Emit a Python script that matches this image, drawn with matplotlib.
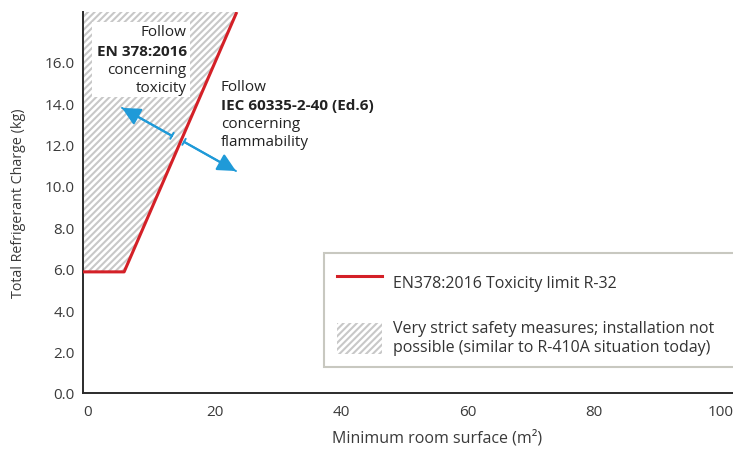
import matplotlib
matplotlib.use('Agg')
import matplotlib.pyplot as plt
import matplotlib.transforms as mtransforms
from matplotlib.lines import Line2D
from matplotlib.patches import Patch, Rectangle

# toxicity limit R-32 (EN378:2016)
surface = [0, 6.5, 24.3]
charge = [5.85, 5.85, 18.4]

x_ticks = [0, 20, 40, 60, 80, 100]
y_ticks = [0, 2, 4, 6, 8, 10, 12, 14, 16]

red = '#d42027'
blue = '#1f9ad8'
grey_txt = '#3a3a3a'
hatch_col = '#c8c8c8'

plt.rcParams['font.family'] = ['Open Sans', 'DejaVu Sans']
plt.rcParams['hatch.color'] = hatch_col
plt.rcParams['hatch.linewidth'] = 1.5

fig = plt.figure(figsize=(7.33, 4.52), dpi=100)
ax = fig.add_axes([83 / 733, 58 / 452, 650 / 733, 381 / 452])
ax.set_xlim(0, 102.7)
ax.set_ylim(0, 18.4)

# hatched zone above the limit
ax.fill_between(surface, charge, 18.4, facecolor='white', hatch='/////',
                edgecolor=hatch_col, linewidth=0, zorder=1)
ax.plot(surface, charge, color=red, lw=2.2, zorder=3, solid_capstyle='butt')

# white box behind the toxicity text
ax.add_patch(Rectangle((1.45, 14.3), 15.5, 3.6, facecolor='white',
                       edgecolor='none', zorder=2))
lines1 = [('Follow', 'normal', 17.44), ('EN 378:2016', 'bold', 16.52),
          ('concerning', 'normal', 15.6), ('toxicity', 'normal', 14.73)]
for s, w, y in lines1:
    ax.text(16.4, y, s, ha='right', va='center', fontsize=11, weight=w,
            color='#222222', zorder=4)
lines2 = [('Follow', 'normal', 14.78), ('IEC 60335-2-40 (Ed.6)', 'bold', 13.91),
          ('concerning', 'normal', 13.0), ('flammability', 'normal', 12.13)]
for s, w, y in lines2:
    ax.text(21.8, y, s, ha='left', va='center', fontsize=11, weight=w,
            color='#222222', zorder=4)

# arrows
for tail, head in [((14.06, 12.42), (6.16, 13.77)), ((15.96, 12.13), (24.17, 10.72))]:
    ax.annotate('', xy=head, xytext=tail, zorder=5,
                arrowprops=dict(arrowstyle='-|>,head_length=1.1,head_width=0.55',
                                color=blue, lw=1.6, shrinkA=0, shrinkB=0))
    ax.annotate('', xy=head, xytext=tail, zorder=5,
                arrowprops=dict(arrowstyle='|-|,widthA=0.25,widthB=0',
                                color=blue, lw=1.4, shrinkA=0, shrinkB=0))

ax.set_xticks(x_ticks)
ax.set_yticks(y_ticks)
ax.set_yticklabels([f'{v:.1f}' for v in y_ticks])
ax.tick_params(length=0, labelsize=11, colors=grey_txt, pad=6)
ax.tick_params(axis='x', pad=8)
off = mtransforms.ScaledTranslation(5 / 100, 0, fig.dpi_scale_trans)
for lab in ax.get_xticklabels():
    lab.set_transform(lab.get_transform() + off)

for s in ['top', 'right']:
    ax.spines[s].set_visible(False)
for s in ['left', 'bottom']:
    ax.spines[s].set_color('#2b2b2b')
    ax.spines[s].set_linewidth(1.4)

ax.set_xlabel('Minimum room surface (m²)', fontsize=11.5, color=grey_txt)
ax.xaxis.set_label_coords(0.545, -0.095)
ax.set_ylabel('Total Refrigerant Charge (kg)', fontsize=10.3, color=grey_txt)
ax.yaxis.set_label_coords(-0.088, 0.5)

handles = [Line2D([], [], color=red, lw=2.2),
           Patch(facecolor='white', hatch='/////', edgecolor=hatch_col, linewidth=0)]
labels = ['EN378:2016 Toxicity limit R-32',
          'Very strict safety measures; installation not\npossible (similar to R-410A situation today)']
leg = fig.legend(handles, labels, loc='upper left', bbox_to_anchor=(324 / 733, 0.184, 0.6, 0.254),
                 bbox_transform=fig.transFigure, mode='expand', fontsize=11.5,
                 handlelength=2.8, handleheight=2.7, handletextpad=0.7, labelspacing=1.4,
                 borderpad=0.8, borderaxespad=0, fancybox=False, framealpha=1,
                 labelcolor='#333333')
leg.get_frame().set_edgecolor('#c8c8c0')
leg.get_frame().set_linewidth(1.5)

fig.savefig('out.png', dpi=100)
